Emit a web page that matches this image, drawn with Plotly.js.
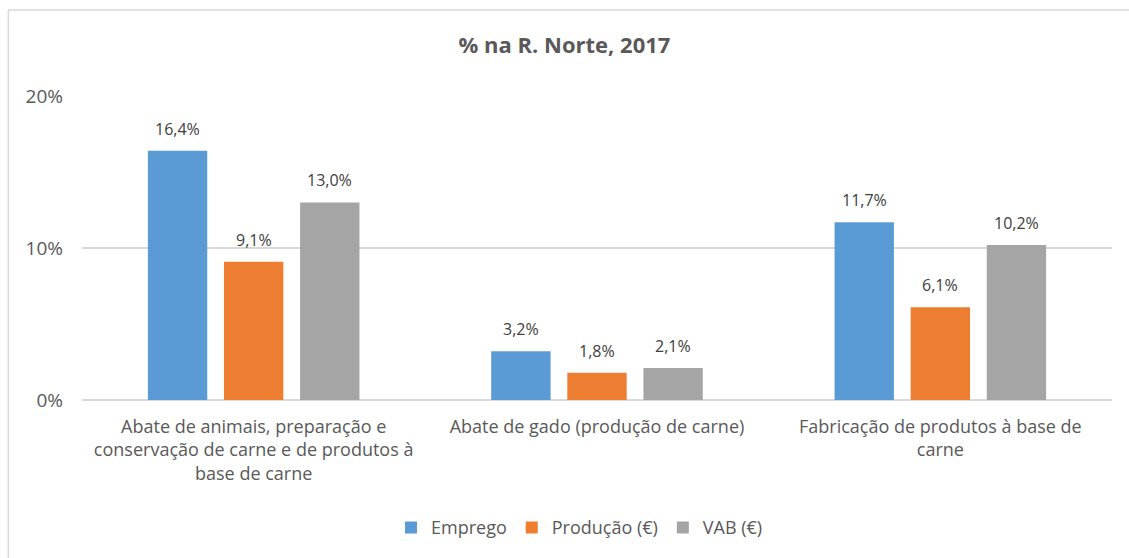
<!DOCTYPE html>
<html>
<head>
<meta charset="utf-8">
<script src="https://cdn.plot.ly/plotly-3.0.1.min.js"></script>
<style>html,body{margin:0;padding:0;background:#fff;}#chart{width:1129px;height:558px;}</style>
</head>
<body>
<div id="chart"></div>
<script>
const categories = [
  "Abate de animais, preparação e<br>conservação de carne e de produtos à<br>base de carne",
  "Abate de gado (produção de carne)",
  "Fabricação de produtos à base de<br>carne"
];
const seriesNames = ["Emprego", "Produção (€)", "VAB (€)"];
const emprego = [16.4, 3.2, 11.7];
const producao = [9.1, 1.8, 6.1];
const vab = [13.0, 2.1, 10.2];
const colors = ["#5B9BD5", "#ED7D31", "#A5A5A5"];
const yTicks = [0, 10, 20];

const font = '"Open Sans", "Noto Sans", sans-serif';
const values = [emprego, producao, vab];
const traces = values.map((v, i) => ({
  type: 'bar',
  name: seriesNames[i],
  x: categories,
  y: v,
  marker: {color: colors[i]},
  hoverinfo: 'none'
}));

const annotations = [];
values.forEach((v, i) => {
  v.forEach((val, j) => {
    annotations.push({
      x: categories[j], y: val, xref: 'x', yref: 'y',
      xshift: (i - 1) * 76, yshift: 22,
      text: val.toFixed(1).replace('.', ',') + '%',
      showarrow: false, xanchor: 'center', yanchor: 'middle',
      font: {family: font, size: 16, color: '#404040'}
    });
  });
});

const layout = {
  width: 1129, height: 558,
  margin: {l: 82, r: 17, t: 96, b: 158},
  paper_bgcolor: '#fff', plot_bgcolor: '#fff',
  font: {family: font, color: '#595959'},
  title: {text: '<b>% na R. Norte, 2017</b>', x: 0.5, xanchor: 'center', y: 0.918, yanchor: 'middle',
          font: {family: font, size: 22, color: '#595959'}},
  barmode: 'group',
  bargap: 0.335,
  bargroupgap: 0.22,
  xaxis: {tickfont: {size: 18, color: '#595959'}, showline: false, ticks: '', automargin: false,
          showgrid: false, ticklabelstandoff: 14},
  yaxis: {range: [0, 20], tickvals: yTicks, ticktext: yTicks.map(t => t + '%'),
          tickfont: {size: 19, color: '#595959'}, gridcolor: '#D9D9D9', gridwidth: 1.5,
          zeroline: true, zerolinecolor: '#D9D9D9', zerolinewidth: 1.5, ticks: '', ticklabelstandoff: 18,
          automargin: false},
  showlegend: true,
  legend: {orientation: 'h', x: 0.483, xanchor: 'center', y: -0.42, yanchor: 'middle',
           font: {size: 18, color: '#595959'}, traceorder: 'normal', itemwidth: 30},
  annotations: annotations,
  shapes: [
    {type: 'line', xref: 'paper', yref: 'paper', x0: -0.0715, x1: -0.0715, y0: 1.283, y1: -0.6, line: {color: '#D9D9D9', width: 1.5}},
    {type: 'line', xref: 'paper', yref: 'paper', x0: -0.0715, x1: 1.02, y0: 1.283, y1: 1.283, line: {color: '#D9D9D9', width: 1.5}}
  ]
};
Plotly.newPlot('chart', traces, layout, {displayModeBar: false, staticPlot: true});
</script>
</body>
</html>
